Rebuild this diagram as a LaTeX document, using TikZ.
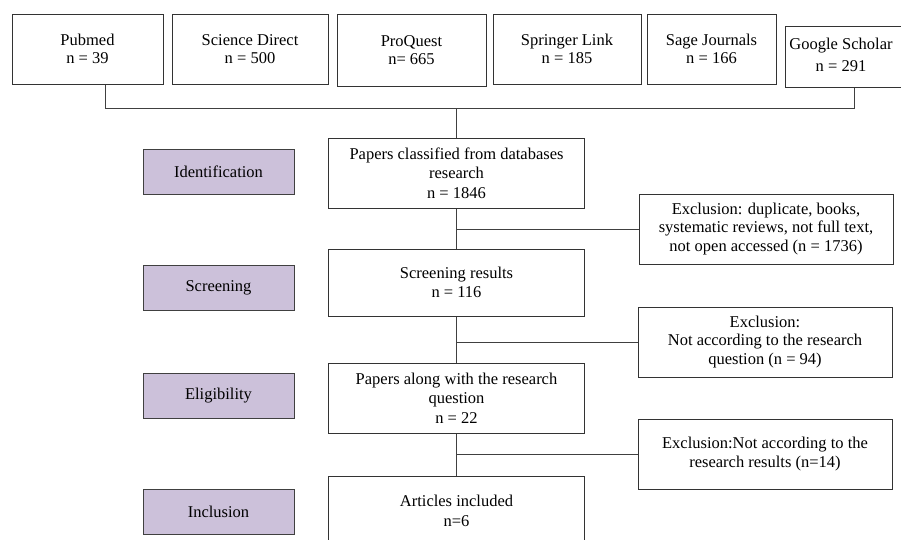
\documentclass[tikz,border=0pt]{standalone}
\usepackage{fontspec}
\setmainfont{Liberation Serif}
\usepackage{tikz}
\usetikzlibrary{positioning,calc}
\definecolor{phasefill}{RGB}{204,193,218}

\begin{document}
\begin{tikzpicture}[x=1pt, y=-1pt,
  txt/.style={font=\fontsize{16.5}{18.5}\selectfont, align=center, inner sep=2pt},
  src/.style={txt, draw=black!80, line width=1pt, fill=white,
    minimum height=70pt},
  phase/.style={txt, draw=black!75, line width=1pt, fill=phasefill,
    minimum width=151pt, minimum height=45pt},
  flow/.style={txt, font=\fontsize{16.5}{19.5}\selectfont, draw=black!80,
    line width=1pt, fill=white, minimum width=256pt, minimum height=70pt},
  excl/.style={txt, draw=black!80, line width=1pt, fill=white,
    minimum width=254pt, minimum height=70pt},
  link/.style={line width=1pt, black!75},
]
\clip (0,0) rectangle (901,539);
\fill[white] (0,0) rectangle (901,539);

%% Databases
\node[src, minimum width=151pt] (pubmed)   at (87.5,49)  {Pubmed\\n = 39};
\node[src, minimum width=156pt] (scidir)   at (250,49)   {Science Direct\\n = 500};
\node[src, minimum width=149pt, minimum height=72pt] (proquest) at (411.5,50) {ProQuest\\n= 665};
\node[src, minimum width=148pt] (springer) at (567,49)   {Springer Link\\n = 185};
\node[src, minimum width=129pt] (sage)     at (711.5,49) {Sage Journals\\n = 166};
\node[src, minimum width=138pt, minimum height=61pt] (gscholar) at (854,56.5)
  {\raisebox{3pt}{\shortstack{Google Scholar\\[4pt]n = 291}}\hspace*{26pt}};

\coordinate (busL) at (105,108);
\coordinate (busR) at (854,108);
\draw[link] (pubmed.south -| busL) -- (busL) -- (busR) -- (gscholar.south);

%% Phases
\node[phase] (ident)  at (218.5,171.5) {Identification};
\node[phase] (screen) at (218.5,287.5) {Screening};
\node[phase] (elig)   at (218.5,395.5) {Eligibility};
\node[phase] (incl)   at (218.5,511.5) {Inclusion};

%% Main flow
\node[flow] (classified) at (456.5,173) {Papers classified from databases\\research\\n = 1846};
\node[flow, minimum height=67pt] (screened) at (456.5,282.5) {Screening results\\n = 116};
\node[flow] (eligible) at (456.5,398) {Papers along with the research\\question\\n = 22};
\node[flow] (included) at (456.5,511) {Articles included\\n=6};

\draw[link] (classified.north |- busL) -- (classified.north);
\draw[link] (classified) -- (screened);
\draw[link] (screened) -- (eligible);
\draw[link] (eligible) -- (included);

%% Exclusions
\node[excl] (excl1) at (766,229) {Exclusion: duplicate, books,\\systematic reviews, not full text,\\not open accessed (n = 1736)};
\node[excl] (excl2) at (765,342) {Exclusion:\\Not according to the research\\question (n = 94)};
\node[excl] (excl3) at (765,454) {Exclusion:Not according to the\\research results (n=14)};

\draw[link] (excl1.west -| classified.south) -- (excl1.west);
\draw[link] (excl2.west -| screened.south) -- (excl2.west);
\draw[link] (excl3.west -| eligible.south) -- (excl3.west);

\end{tikzpicture}
\end{document}
